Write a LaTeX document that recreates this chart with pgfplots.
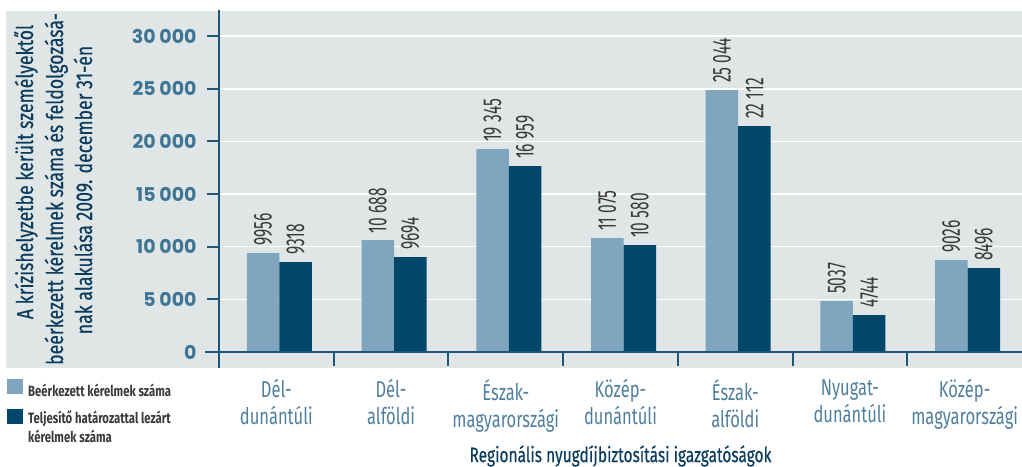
\documentclass[border=0pt]{standalone}
\usepackage{fontspec}
\setmainfont{Fira Sans}
\newfontfamily\condfont[FakeStretch=0.72]{Fira Sans}
\newfontfamily\legfont[FakeStretch=0.76]{Fira Sans}
\newfontfamily\titlefont[FakeStretch=0.74, FakeBold=0.4]{Fira Sans}
\newfontfamily\ytitlefont[FakeStretch=0.77, FakeBold=0.4]{Fira Sans}
\newfontfamily\numfont[FakeStretch=0.6]{Fira Sans}
\newfontfamily\tickfont{Poppins}
\usepackage{pgfplots}
\pgfplotsset{compat=1.18}

\definecolor{bg}{HTML}{E0E5E6}
\definecolor{lightbar}{HTML}{7FA5BF}
\definecolor{darkbar}{HTML}{00476B}
\definecolor{axiscol}{HTML}{1D5676}
\definecolor{ticktext}{HTML}{3E7494}
\definecolor{cattext}{HTML}{4F7F9C}
\definecolor{titletext}{HTML}{0B3C5D}
\definecolor{valtext}{HTML}{3A3A3A}

\begin{document}
\begin{tikzpicture}[x=1bp,y=1bp]
\fill[bg] (6,99) rectangle (1022,456);

\begin{axis}[
    at={(219bp,115bp)}, anchor=south west,
    scale only axis, width=803bp, height=341bp,
    xmin=-0.5, xmax=6.5, ymin=0, ymax=32400,
    ybar, bar width=32.5bp,
    axis x line*=bottom, axis y line*=left,
    axis line style={axiscol, line width=2bp},
    ytick={0,5000,...,30000},
    scaled y ticks=false,
    ymajorgrids, grid style={white, line width=1.5bp},
    ytick style={draw=axiscol, line width=2bp},
    tick align=outside, major tick length=12bp,
    yticklabel style={font=\tickfont\bfseries\fontsize{19}{19}\selectfont, color=ticktext, xshift=-7bp},
    /pgf/number format/.cd, 1000 sep={\hspace{0.2em}}, assume math mode=true, /pgfplots/.cd,
    xtick={0,...,6},
    xtick style={draw=none},
    xticklabels={{Dél-\\dunántúli},{Dél-\\alföldi},{Észak-\\magyarországi},{Közép-\\dunántúli},{Észak-\\alföldi},{Nyugat-\\dunántúli},{Közép-\\magyarországi}},
    xticklabel style={align=center, font=\condfont\fontsize{23}{27}\selectfont, color=cattext, yshift=-12bp},
    extra x ticks={0.5,1.5,2.5,3.5,4.5,5.5},
    extra x tick labels={},
    extra x tick style={major tick length=14bp, xtick style={draw=axiscol, line width=2bp}, grid=none},
    nodes near coords,
    point meta=explicit symbolic,
    every node near coord/.append style={rotate=90, anchor=west, font=\numfont\fontsize{26}{26}\selectfont, color=valtext, inner xsep=7bp, inner ysep=0pt},
]
\addplot[fill=lightbar, draw=none, bar shift=-13.25bp] coordinates {
(0,9400) [9956]
(1,10620) [10\,688]
(2,19280) [19\,345]
(3,10830) [11\,075]
(4,24880) [25\,044]
(5,4840) [5037]
(6,8740) [9026]
};
\addplot[fill=darkbar, draw=none, bar shift=19.25bp] coordinates {
(0,8550) [9318]
(1,9020) [9694]
(2,17660) [16\,959]
(3,10160) [10\,580]
(4,21460) [22\,112]
(5,3510) [4744]
(6,7980) [8496]
};
\end{axis}

\draw[axiscol, line width=2bp] (205,115) -- (1022,115);
\draw[axiscol, line width=2bp] (219,99) -- (219,457);

% legend
\fill[lightbar] (7,73) rectangle (22.5,88);
\node[anchor=west, inner sep=0pt, font=\legfont\bfseries\fontsize{15}{20}\selectfont, color=valtext] at (28,77) {Beérkezett kérelmek száma};
\fill[darkbar] (7,43) rectangle (22.5,58);
\node[anchor=north west, align=left, inner sep=0pt, font=\legfont\bfseries\fontsize{15}{20}\selectfont, color=valtext] at (28,57) {Teljesítő határozattal lezárt\\kérelmek száma};

% axis titles
\begin{scope}[every node/.style={rotate=90, anchor=base, inner sep=0pt, font=\ytitlefont\fontsize{23}{23}\selectfont, color=titletext}]
\node at (33,295) {A krízishelyzetbe került személyektől};
\node at (63,278) {beérkezett kérelmek száma és feldolgozásá-};
\node at (92,277) {nak alakulása 2009. december 31-én};
\end{scope}
\node[font=\titlefont\fontsize{21}{21}\selectfont, color=titletext] at (620.5,11) {Regionális nyugdíjbiztosítási igazgatóságok};

\pgfresetboundingbox
\path[use as bounding box] (0,0) rectangle (1022,467);
\end{tikzpicture}
\end{document}
